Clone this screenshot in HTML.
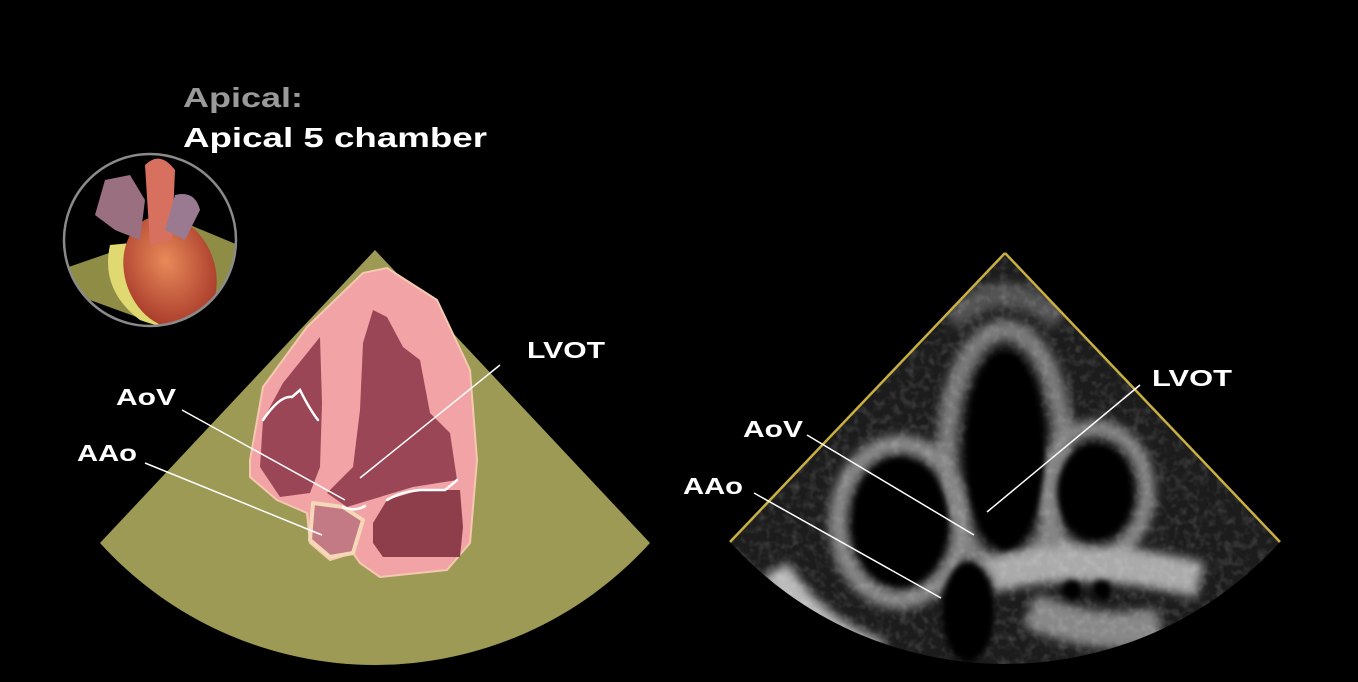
<!DOCTYPE html>
<html><head><meta charset="utf-8"><style>
html,body{margin:0;padding:0;background:#000;}
svg{display:block}
text{font-family:"Liberation Sans",sans-serif;font-weight:bold}
</style></head><body>
<svg width="1358" height="682" viewBox="0 0 1358 682" xmlns="http://www.w3.org/2000/svg">
<defs>
<radialGradient id="hrt" cx="0.5" cy="0.4" r="0.6">
<stop offset="0" stop-color="#e88a5a"/><stop offset="1" stop-color="#a83a2a"/>
</radialGradient>
<filter id="b6" x="-20%" y="-20%" width="140%" height="140%"><feGaussianBlur stdDeviation="5"/></filter>
<filter id="b3" x="-20%" y="-20%" width="140%" height="140%"><feGaussianBlur stdDeviation="3"/></filter>
<filter id="noise" x="0" y="0" width="100%" height="100%">
<feTurbulence type="fractalNoise" baseFrequency="0.12" numOctaves="2" seed="3"/>
<feColorMatrix type="matrix" values="0 0 0 0 1  0 0 0 0 1  0 0 0 0 1  1.4 0 0 0 -0.6"/>
</filter>
<clipPath id="fan"><path d="M1005,253 L730,542 A371,371 0 0 0 1280,542 Z"/></clipPath>
</defs>
<rect width="1358" height="682" fill="#000"/>
<!-- left sector -->
<path d="M375,250 L100,543 A371,371 0 0 0 650,543 Z" fill="#9c9a55"/>
<!-- heart cut -->
<path d="M250,460 L263,387 L307,327 L363,273 L387,268 L437,300 L470,370 L477,460 L470,543 L447,570 L380,577 L360,563 L353,553 L330,560 L310,543 L307,513 L277,500 L250,477 Z" fill="#f2a3a6" stroke="#f5c8b0" stroke-width="2" stroke-linejoin="round"/>
<path d="M320,337 L283,383 L263,420 L260,467 L280,497 L310,493 L320,467 L322,403 Z" fill="#9a4656" stroke-linejoin="round"/>
<path d="M373,310 L363,343 L360,410 L353,467 L327,493 L347,507 L370,500 L413,487 L457,480 L450,433 L430,413 L420,360 L403,347 L387,317 Z" fill="#9a4656"/>
<path d="M373,523 L387,500 L420,490 L460,490 L463,527 L460,557 L383,557 L373,543 Z" fill="#8e3d4b"/>
<path d="M313,503 L343,507 L363,520 L353,553 L330,557 L310,540 Z" fill="#c47a84" stroke="#f5d8b8" stroke-width="4" stroke-linejoin="round"/>
<g stroke="#fff" stroke-width="2.5" fill="none" stroke-linecap="round">
<path d="M263,420 Q280,395 292,397 L300,390 Q310,410 318,420"/>
<path d="M387,500 Q400,492 420,490 L445,490 Q455,482 457,480"/>
<path d="M343,507 Q355,512 365,506"/>
</g>
<g stroke="#fff" stroke-width="1.5">
<line x1="500" y1="365" x2="360" y2="478"/>
<line x1="182" y1="410" x2="345" y2="500"/>
<line x1="145" y1="463" x2="322" y2="535"/>
</g>
<text x="527" y="358" fill="#fff" font-size="23" textLength="78" lengthAdjust="spacingAndGlyphs">LVOT</text>
<text x="116" y="405" fill="#fff" font-size="23" textLength="60" lengthAdjust="spacingAndGlyphs">AoV</text>
<text x="77" y="461" fill="#fff" font-size="23" textLength="60" lengthAdjust="spacingAndGlyphs">AAo</text>
<text x="183" y="107" fill="#9a9a9a" font-size="28" textLength="120" lengthAdjust="spacingAndGlyphs">Apical:</text>
<text x="183" y="147" fill="#fff" font-size="28" textLength="304" lengthAdjust="spacingAndGlyphs">Apical 5 chamber</text>
<!-- inset -->
<clipPath id="ic"><circle cx="150" cy="240" r="86"/></clipPath>
<circle cx="150" cy="240" r="86" fill="#000"/>
<g clip-path="url(#ic)">
<path d="M60,270 L190,225 L250,250 L250,330 L200,340 L90,300 Z" fill="#8f8c45"/>
<path d="M110,245 Q100,290 140,320 Q180,335 200,320 Q190,270 160,240 Z" fill="#e0d870"/>
<ellipse cx="170" cy="272" rx="45" ry="58" fill="url(#hrt)" transform="rotate(-20 170 272)"/>
<path d="M145,165 Q160,150 175,170 L172,240 L150,245 Z" fill="#d87060"/>
<path d="M105,180 L130,175 L145,200 L140,240 L115,230 L95,215 Z" fill="#9a7080"/>
<path d="M175,195 Q195,190 200,210 L185,240 L165,230 Z" fill="#9a7a90"/>
</g>
<circle cx="150" cy="240" r="86" fill="none" stroke="#8a8a8a" stroke-width="2.5"/>
<!-- right ultrasound -->
<path d="M1005,253 L730,542 A371,371 0 0 0 1280,542 Z" fill="#1c1c1c"/>
<g clip-path="url(#fan)">
<g filter="url(#b6)" fill="none" stroke="#9a9a9a">
<path d="M950,320 Q1005,270 1060,320" stroke-width="24" stroke="#555"/>
<ellipse cx="1005" cy="450" rx="58" ry="120" stroke-width="20" stroke="#7a7a7a"/>
<ellipse cx="900" cy="522" rx="62" ry="78" stroke-width="18" stroke="#888"/>
<ellipse cx="1095" cy="492" rx="52" ry="64" stroke-width="16" stroke="#888"/>
<path d="M990,575 Q1080,550 1200,580" stroke-width="36" stroke="#aaa"/>
<path d="M775,570 Q810,630 880,655" stroke-width="30" stroke="#bbb"/>
<path d="M1030,610 Q1100,640 1160,625" stroke-width="36" stroke="#888"/>
</g>
<path d="M1005,253 L730,542 A371,371 0 0 0 1280,542 Z" filter="url(#noise)" opacity="0.25"/>
<g filter="url(#b3)" fill="#030303">
<ellipse cx="1005" cy="450" rx="40" ry="100"/>
<ellipse cx="900" cy="522" rx="48" ry="64"/>
<ellipse cx="1095" cy="492" rx="38" ry="48"/>
<ellipse cx="968" cy="612" rx="26" ry="50"/>
<ellipse cx="1072" cy="590" rx="10" ry="10"/>
<ellipse cx="1102" cy="590" rx="10" ry="10"/>
</g>
</g>
<line x1="1005" y1="253" x2="730" y2="542" stroke="#c9b040" stroke-width="2.5"/>
<line x1="1005" y1="253" x2="1280" y2="542" stroke="#c9b040" stroke-width="2.5"/>
<g stroke="#fff" stroke-width="1.5">
<line x1="1140" y1="385" x2="987" y2="512"/>
<line x1="807" y1="435" x2="974" y2="535"/>
<line x1="754" y1="493" x2="941" y2="598"/>
</g>
<text x="1152" y="386" fill="#fff" font-size="23" textLength="80" lengthAdjust="spacingAndGlyphs">LVOT</text>
<text x="743" y="437" fill="#fff" font-size="23" textLength="60" lengthAdjust="spacingAndGlyphs">AoV</text>
<text x="683" y="494" fill="#fff" font-size="23" textLength="60" lengthAdjust="spacingAndGlyphs">AAo</text>
</svg>
</body></html>
